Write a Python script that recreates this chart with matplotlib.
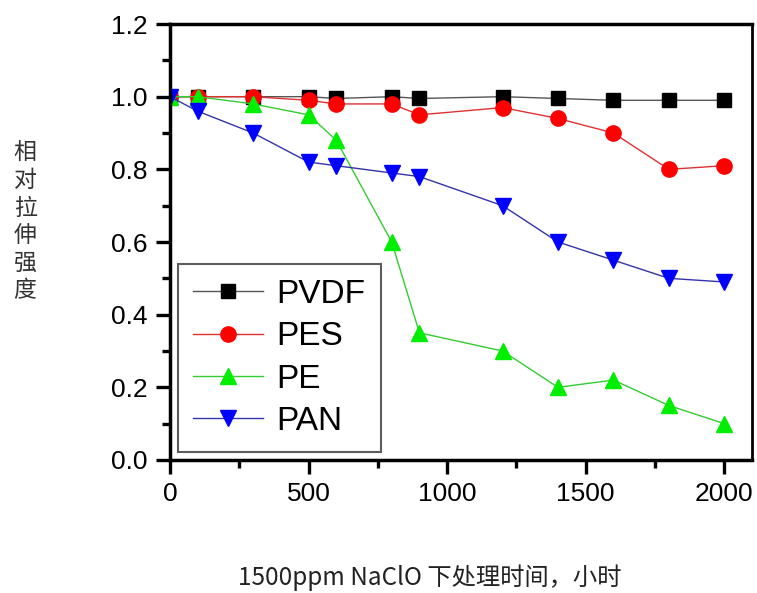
import matplotlib
matplotlib.use("Agg")
import matplotlib.pyplot as plt
from matplotlib.ticker import MultipleLocator

hours = [0, 100, 300, 500, 600, 800, 900, 1200, 1400, 1600, 1800, 2000]
pvdf = [1.0, 1.0, 1.0, 1.0, 0.995, 1.0, 0.995, 1.0, 0.995, 0.99, 0.99, 0.99]
pes = [1.0, 1.0, 1.0, 0.99, 0.98, 0.98, 0.95, 0.97, 0.94, 0.90, 0.80, 0.81]
pe = [1.0, 1.0, 0.98, 0.95, 0.88, 0.60, 0.35, 0.30, 0.20, 0.22, 0.15, 0.10]
pan = [1.0, 0.96, 0.90, 0.82, 0.81, 0.79, 0.78, 0.70, 0.60, 0.55, 0.50, 0.49]

series_names = ["PVDF", "PES", "PE", "PAN"]
xlabel = "1500ppm NaClO 下处理时间，小时"
ylabel = "相对拉伸强度"

plt.rcParams['font.family'] = ['Liberation Sans', 'Noto Sans CJK SC', 'DejaVu Sans']

fig = plt.figure(figsize=(7.57, 5.93), dpi=100)
ax = fig.add_axes([0.2246, 0.2243, 0.7688, 0.7352])

ax.plot(hours, pvdf, color='#555555', lw=1.0, marker='s', ms=9.5,
        mfc='black', mec='black', label=series_names[0])
ax.plot(hours, pes, color='#e03030', lw=1.0, marker='o', ms=11,
        mfc='#ff0000', mec='#ff0000', label=series_names[1])
ax.plot(hours, pe, color='#33cc33', lw=1.0, marker='^', ms=12,
        mfc='#00ee00', mec='#00ee00', label=series_names[2])
ax.plot(hours, pan, color='#3333aa', lw=1.0, marker='v', ms=12,
        mfc='#0000ff', mec='#0000ff', label=series_names[3])

ax.set_xlim(0, 2100)
ax.set_ylim(0, 1.2)
ax.xaxis.set_major_locator(MultipleLocator(500))
ax.xaxis.set_minor_locator(MultipleLocator(250))
ax.yaxis.set_major_locator(MultipleLocator(0.2))
ax.yaxis.set_minor_locator(MultipleLocator(0.1))
ax.yaxis.set_major_formatter(plt.FuncFormatter(lambda v, p: f"{v:.1f}"))

for s in ax.spines.values():
    s.set_linewidth(2.5)
ax.spines['right'].set_linewidth(2.0)

ax.tick_params(which='major', direction='out', length=10, width=2.4,
               labelsize=19, pad=6, top=False, right=False)
ax.tick_params(which='minor', direction='out', length=6, width=2.4,
               top=False, right=False)

leg = ax.legend(loc='lower left', bbox_to_anchor=(0.014, 0.018), borderaxespad=0,
                fontsize=24, handlelength=2.1, handletextpad=0.4,
                labelspacing=0.34, borderpad=0.45, fancybox=False, frameon=True)
leg.get_frame().set_edgecolor('#333333')
leg.get_frame().set_linewidth(1.5)

fig.text(0.568, 0.025, xlabel, ha='center', va='center', fontsize=17.5,
         family=['Noto Sans CJK SC'], color='#222222')
fig.text(0.033, 0.626, "\n".join(ylabel), ha='center', va='center', fontsize=16.5,
         family=['Noto Sans CJK SC'], color='#333333', linespacing=1.25)

fig.savefig("out.png", dpi=100)
